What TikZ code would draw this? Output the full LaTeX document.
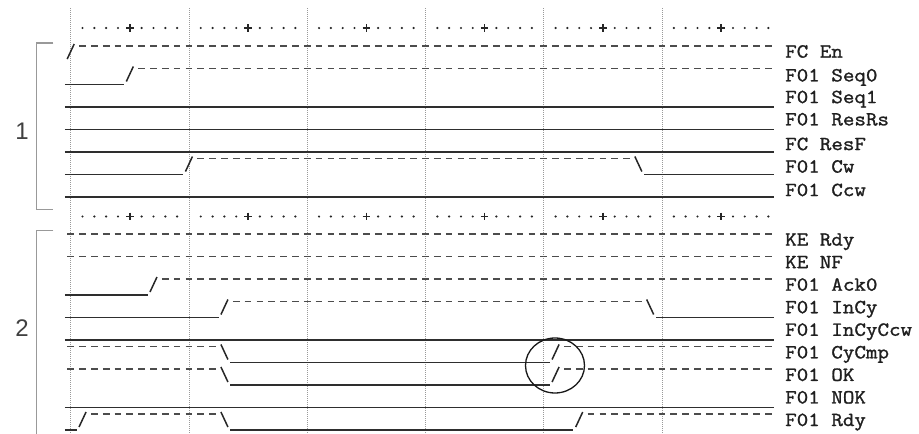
\documentclass[tikz,border=0pt]{standalone}
\usepackage{fontspec}
\newfontfamily\lblfont[FakeStretch=1.12,FakeBold=1.3]{Latin Modern Mono}
\newfontfamily\numfont{Liberation Sans}
\def\xz{70.7}
\def\cw{11.826}
\tikzset{
  lowline/.style={line width=1.7pt, draw=black!82},
  hiline/.style={line width=1.6pt, draw=black!70, dash pattern=on 6.7pt off 5.126pt, dash phase=9.263pt},
  edgeline/.style={line width=1.5pt, draw=black!85},
  vgrid/.style={line width=0.8pt, draw=black!40, dash pattern=on 1pt off 1pt},
  bracketline/.style={line width=1.4pt, draw=black!40},
  lbl/.style={anchor=base west, inner sep=0pt, font=\lblfont\fontsize{20}{22}\selectfont, text=black!88},
  grpnum/.style={inner sep=0pt, font=\numfont\fontsize{24}{26}\selectfont, text=black!75},
  plusmark/.style={line width=1.5pt, draw=black!85},
  dotmark/.style={fill=black!85}
}
% low (underscore) segment: yd, from cell, to cell
\newcommand\lowseg[3]{\draw[lowline] ({\xz+\cw*(#2-0.5)},{#1+16}) -- ({\xz+\cw*(#3+0.5)},{#1+16});}
% high (dashed) segment
\newcommand\hiseg[3]{\draw[hiline] ({\xz+\cw*(#2-0.5)},#1) -- ({\xz+\cw*(#3+0.5)},#1);}
% rising edge "/" at cell
\newcommand\riseat[2]{\draw[edgeline] ({\xz+\cw*#2-3.5},{#1+13}) -- ({\xz+\cw*#2+3.5},{#1-2});}
% falling edge "\" at cell
\newcommand\fallat[2]{\draw[edgeline] ({\xz+\cw*#2-3.5},{#1-2}) -- ({\xz+\cw*#2+3.5},{#1+13});}
\newcommand\rulerrow[1]{%
  \foreach \s in {0,...,5}{%
    \foreach \j in {1,2,3,4,6,7,8,9}{\fill[dotmark] ({\xz+\cw*(10*\s+\j)},#1) circle (1.2pt);}
    \draw[plusmark] ({\xz+\cw*(10*\s+5)-3.8},#1) -- ({\xz+\cw*(10*\s+5)+3.8},#1)
                    ({\xz+\cw*(10*\s+5)},{#1-3.8}) -- ({\xz+\cw*(10*\s+5)},{#1+3.8});
  }}
\begin{document}
\begin{tikzpicture}[x=1pt,y=-1pt]
\useasboundingbox[fill=white] (0,0) rectangle (919,434);
% vertical dotted grid
\foreach \k in {0,...,5}{\draw[vgrid] ({\xz+\cw*10*\k},8) -- ({\xz+\cw*10*\k},434);}
% rulers
\rulerrow{28}
\rulerrow{216.5}
% brackets and group numbers
\draw[bracketline] (53.3,43) -- (36.7,43) -- (36.7,209.3) -- (53.3,209.3);
\draw[bracketline] (53.3,230.7) -- (36.7,230.7) -- (36.7,436);
\node[grpnum] (g1) at (22,131) {1};
\node[grpnum] (g2) at (22,328) {2};
% ---- group 1 ----
% FC En
\riseat{46}{0} \hiseg{46}{1}{59}
% F01 Seq0
\lowseg{68.5}{0}{4} \riseat{68.5}{5} \hiseg{68.5}{6}{59}
% F01 Seq1
\lowseg{91}{0}{59}
% F01 ResRs
\lowseg{113.5}{0}{59}
% FC ResF
\lowseg{136}{0}{59}
% F01 Cw
\lowseg{158.5}{0}{9} \riseat{158.5}{10} \hiseg{158.5}{11}{47} \fallat{158.5}{48} \lowseg{158.5}{49}{59}
% F01 Ccw
\lowseg{181}{0}{59}
% ---- group 2 ----
% KE Rdy
\hiseg{234}{0}{59}
% KE NF
\hiseg{256.5}{0}{59}
% F01 Ack0
\lowseg{279}{0}{6} \riseat{279}{7} \hiseg{279}{8}{59}
% F01 InCy
\lowseg{301.5}{0}{12} \riseat{301.5}{13} \hiseg{301.5}{14}{48} \fallat{301.5}{49} \lowseg{301.5}{50}{59}
% F01 InCyCcw
\lowseg{324}{0}{59}
% F01 CyCmp
\hiseg{346.5}{0}{12} \fallat{346.5}{13} \lowseg{346.5}{14}{40} \riseat{346.5}{41} \hiseg{346.5}{42}{59}
% F01 OK
\hiseg{369}{0}{12} \fallat{369}{13} \lowseg{369}{14}{40} \riseat{369}{41} \hiseg{369}{42}{59}
% F01 NOK
\lowseg{391.5}{0}{59}
% F01 Rdy
\lowseg{414}{0}{0} \riseat{414}{1} \hiseg{414}{2}{12} \fallat{414}{13} \lowseg{414}{14}{42} \riseat{414}{43} \hiseg{414}{44}{59}
% highlight circle
\draw[line width=1.3pt, black!90] (555,365.5) ellipse [x radius=29.5, y radius=27.5];
% labels group 1
\node[lbl] (l1) at (785,57.6) {FC En};
\node[lbl] (l2) at (785,81.4) {F01 Seq0};
\node[lbl] (l3) at (785,103.1) {F01 Seq1};
\node[lbl] (l4) at (785,125.4) {F01 ResRs};
\node[lbl] (l5) at (785,150.1) {FC ResF};
\node[lbl] (l6) at (785,172.6) {F01 Cw};
\node[lbl] (l7) at (785,196.1) {F01 Ccw};
% labels group 2
\node[lbl] (m1) at (785,245.6) {KE Rdy};
\node[lbl] (m2) at (785,268.15) {KE NF};
\node[lbl] (m3) at (785,290.7) {F01 Ack0};
\node[lbl] (m4) at (785,313.25) {F01 InCy};
\node[lbl] (m5) at (785,335.8) {F01 InCyCcw};
\node[lbl] (m6) at (785,358.35) {F01 CyCmp};
\node[lbl] (m7) at (785,380.9) {F01 OK};
\node[lbl] (m8) at (785,403.45) {F01 NOK};
\node[lbl] (m9) at (785,426) {F01 Rdy};
\end{tikzpicture}
\end{document}
